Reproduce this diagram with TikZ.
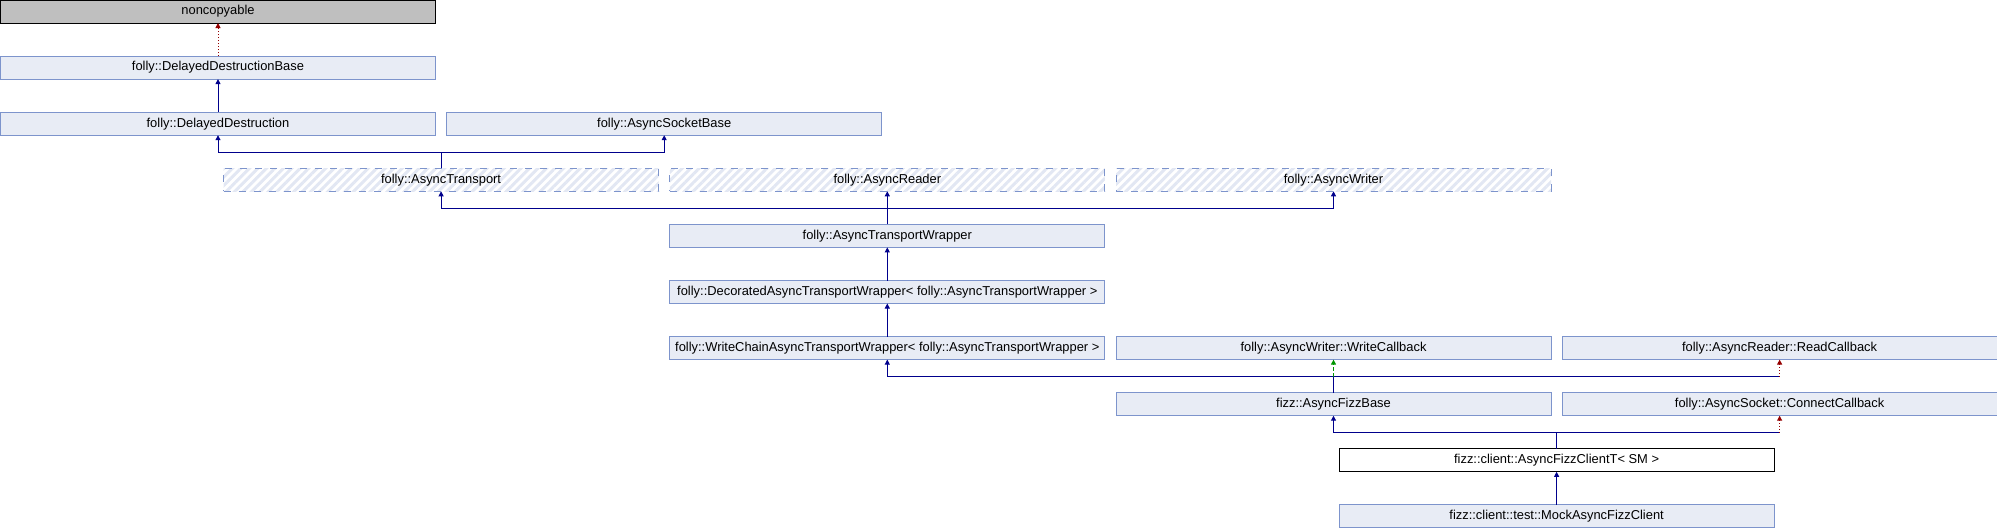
\documentclass[tikz,border=0pt]{standalone}
\usepackage{fontspec}
\setmainfont{Liberation Sans}
\usetikzlibrary{arrows.meta,patterns.meta}
\definecolor{boxfill}{RGB}{232,236,245}
\definecolor{boxline}{RGB}{125,148,204}
\definecolor{hatch}{RGB}{226,231,243}
\definecolor{navy}{RGB}{0,0,140}
\definecolor{dred}{RGB}{150,0,0}
\definecolor{dgreen}{RGB}{0,150,0}
\tikzset{
  cls/.style={draw=boxline, fill=boxfill, line width=1pt, minimum width=435pt, minimum height=23pt, inner sep=0pt, outer sep=0pt, font=\fontsize{12.9}{15}\selectfont},
  grey/.style={cls, draw=black, fill=black!25},
  plainbox/.style={cls, draw=black, fill=white},
  hatched/.style={cls, fill=none, dash pattern=on 7pt off 8pt},
  pub/.style={draw=navy, line width=1pt, -{Triangle[width=5pt,length=5pt]}},
  pubplain/.style={draw=navy, line width=1pt},
  priv/.style={draw=dred, line width=1pt, dotted, -{Triangle[width=5pt,length=5pt]}},
  prot/.style={draw=dgreen, line width=1pt, dash pattern=on 4pt off 2pt, -{Triangle[width=5pt,length=5pt]}},
}
\newcommand{\hatchnode}[3]{%
  \fill[pattern={Lines[angle=45,distance=6pt,line width=3pt]}, pattern color=hatch]
    ([shift={(-217.5,-11.5)}]#2) rectangle ([shift={(217.5,11.5)}]#2);
  \node[hatched] (#1) at (#2) {#3};}
\begin{document}
\begin{tikzpicture}[x=1pt,y=-1pt]
\useasboundingbox (0,0) rectangle (1997,528);
% row centres: 11.5 + 56.1*k ; column centres: 218 + 223.1*k
\node[grey] (nc) at (218,11.5) {noncopyable};
\node[cls] (ddb) at (218,67.6) {folly::DelayedDestructionBase};
\node[cls] (dd) at (218,123.7) {folly::DelayedDestruction};
\node[cls] (asb) at (664.2,123.7) {folly::AsyncSocketBase};
\hatchnode{at}{441.1,179.8}{folly::AsyncTransport}
\hatchnode{ar}{887.3,179.8}{folly::AsyncReader}
\hatchnode{aw}{1333.5,179.8}{folly::AsyncWriter}
\node[cls] (atw) at (887.3,235.9) {folly::AsyncTransportWrapper};
\node[cls] (dec) at (887.3,292.0) {folly::DecoratedAsyncTransportWrapper< folly::AsyncTransportWrapper >};
\node[cls] (wca) at (887.3,348.1) {folly::WriteChainAsyncTransportWrapper< folly::AsyncTransportWrapper >};
\node[cls] (wcb) at (1333.5,348.1) {folly::AsyncWriter::WriteCallback};
\node[cls] (rc) at (1779.6,348.1) {folly::AsyncReader::ReadCallback};
\node[cls] (afb) at (1333.5,404.2) {fizz::AsyncFizzBase};
\node[cls] (cc) at (1779.6,404.2) {folly::AsyncSocket::ConnectCallback};
\node[plainbox] (afc) at (1556.6,460.3) {fizz::client::AsyncFizzClientT< SM >};
\node[cls] (mock) at (1556.6,516.4) {fizz::client::test::MockAsyncFizzClient};
% connectors
\draw[priv] (ddb.north) -- (nc.south);
\draw[pub] (dd.north) -- (ddb.south);
\coordinate (l3) at ([yshift=16pt]at.north);
\draw[pub] (at.north) -- (l3) -| (dd.south);
\draw[pub] (l3) -| (asb.south);
\coordinate (l4) at ([yshift=16pt]atw.north);
\draw[pub] (atw.north) -- (l4) -| (at.south);
\draw[pub] (l4) -- (ar.south);
\draw[pub] (l4) -| (aw.south);
\draw[pub] (dec.north) -- (atw.south);
\draw[pub] (wca.north) -- (dec.south);
\coordinate (l6) at ([yshift=16pt]afb.north);
\draw[pub] (afb.north) -- (l6) -| (wca.south);
\draw[pubplain] (l6) -- (l6 -| rc.south);
\draw[priv] (l6 -| rc.south) -- (rc.south);
\draw[prot] (l6) -- (wcb.south);
\coordinate (l7) at ([yshift=16pt]afc.north);
\draw[pub] (afc.north) -- (l7) -| (afb.south);
\draw[pubplain] (l7) -- (l7 -| cc.south);
\draw[priv] (l7 -| cc.south) -- (cc.south);
\draw[pub] (mock.north) -- (afc.south);
\end{tikzpicture}
\end{document}
